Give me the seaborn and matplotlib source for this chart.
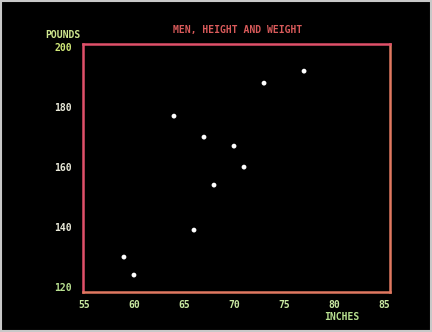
import numpy as np
import pandas as pd
import seaborn as sns
import matplotlib.pyplot as plt
from matplotlib.patches import Rectangle

# men, height (inches) and weight (pounds)
heights = [77, 73, 64, 67, 70, 71, 68, 66, 59, 60]
weights = [192, 188, 177, 170, 167, 160, 154, 139, 130, 124]
x_ticks = [55, 60, 65, 70, 75, 80, 85]
y_ticks = [120, 140, 160, 180, 200]

df = pd.DataFrame({"Height": heights, "Weight": weights})

sns.set_style("dark")
plt.rcParams["font.family"] = ["DejaVu Sans Mono", "DejaVu Sans"]
plt.rcParams["font.weight"] = "bold"

fig = plt.figure(figsize=(4.32, 3.32), dpi=100, facecolor="black")
ax = fig.add_axes([0.192, 0.12, 0.711, 0.747])
ax.set_facecolor("black")

sns.scatterplot(data=df, x="Height", y="Weight", ax=ax, color="white",
                s=12, edgecolor="none", zorder=3)

ax.set_xlim(54.9, 85.6)
ax.set_ylim(118.3, 201)
ax.set_xticks(x_ticks)
ax.set_yticks(y_ticks)
ax.set_xticklabels([str(t) for t in x_ticks])
ax.set_yticklabels([str(t) for t in y_ticks])
ax.tick_params(axis="x", length=0, labelsize=7, pad=6)
ax.tick_params(axis="y", length=0, labelsize=7, pad=8)
ax.grid(False)
for lab in ax.get_xticklabels():
    lab.set_color("#c8e8a0")
for lab, c in zip(ax.get_yticklabels(),
                  ["#b8e090", "#e8e8d8", "#e8e8d8", "#e8e8d8", "#d0e878"]):
    lab.set_color(c)

for side in ["left", "top"]:
    ax.spines[side].set_color("#e0506a")
for side in ["bottom", "right"]:
    ax.spines[side].set_color("#e07860")
for sp in ax.spines.values():
    sp.set_visible(True)
    sp.set_linewidth(1.8)

ax.set_xlabel("")
ax.set_ylabel("")
fig.text(0.55, 0.91, "MEN, HEIGHT AND WEIGHT", color="#d85a5a",
         fontsize=7, ha="center", va="center")
fig.text(0.146, 0.895, "POUNDS", color="#d0e890", fontsize=7,
         ha="center", va="center")
fig.text(0.79, 0.045, "INCHES", color="#b8e090", fontsize=7,
         ha="center", va="center")

# photo frame around the screen
fig.patches.append(Rectangle((0.002, 0.003), 0.995, 0.993, transform=fig.transFigure,
                             fill=False, edgecolor="#c8c8c8", linewidth=1.5))

fig.savefig("out.png", dpi=100, facecolor="black")
